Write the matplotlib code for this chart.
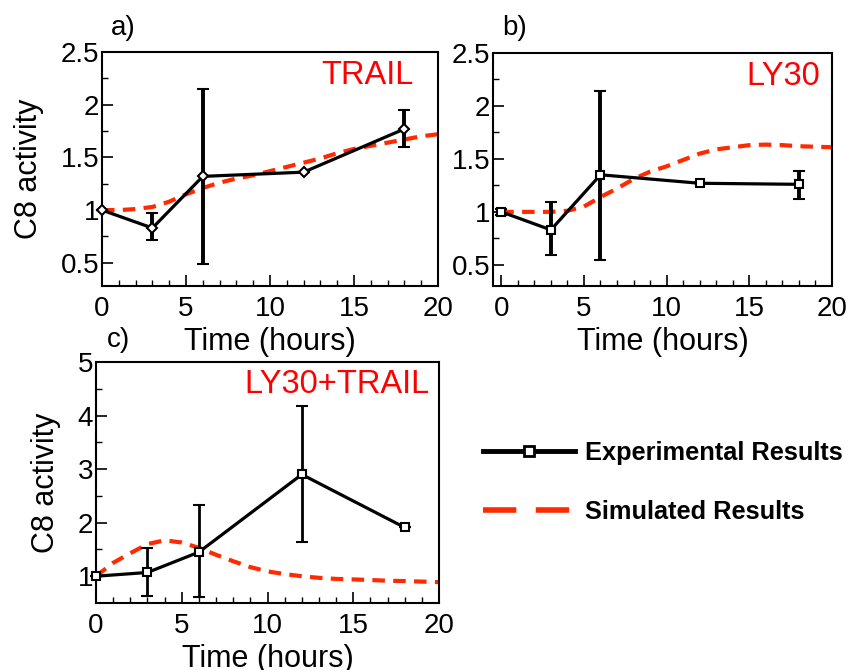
import numpy as np
import matplotlib.pyplot as plt
from matplotlib.lines import Line2D

plt.rcParams['font.family'] = ['Liberation Sans', 'DejaVu Sans']

# experimental points (time in hours)
t_exp = [0, 3, 6, 12, 18]

trail_exp = [1.0, 0.83, 1.32, 1.36, 1.77]
trail_lo = [1.0, 0.72, 0.49, 1.36, 1.60]
trail_hi = [1.0, 0.97, 2.15, 1.36, 1.95]

ly30_exp = [1.0, 0.83, 1.35, 1.27, 1.26]
ly30_lo = [0.97, 0.59, 0.55, 1.27, 1.12]
ly30_hi = [1.03, 1.09, 2.14, 1.27, 1.39]

combo_exp = [1.0, 1.07, 1.45, 2.90, 1.91]
combo_lo = [1.0, 0.63, 0.61, 1.63, 1.91]
combo_hi = [1.0, 1.53, 2.33, 4.17, 1.91]

# simulated curves
t_sim = [0, 1, 2, 3, 4, 5, 6, 7, 8, 9, 10, 11, 12, 13, 14, 15, 16, 17, 18, 19, 20]
trail_sim = [1.0, 1.0, 1.01, 1.03, 1.08, 1.15, 1.21, 1.26, 1.30, 1.33, 1.37, 1.41,
             1.45, 1.49, 1.54, 1.58, 1.61, 1.64, 1.67, 1.70, 1.72]
ly30_sim = [1.0, 1.0, 1.0, 1.0, 1.01, 1.05, 1.14, 1.22, 1.31, 1.38, 1.43, 1.49,
            1.55, 1.59, 1.61, 1.63, 1.635, 1.63, 1.62, 1.615, 1.61]
combo_sim = [1.0, 1.25, 1.43, 1.60, 1.67, 1.63, 1.53, 1.40, 1.28, 1.17, 1.09, 1.04,
             1.0, 0.97, 0.95, 0.94, 0.93, 0.915, 0.91, 0.90, 0.89]

RED = '#ff2a00'
W, H = 848, 670


def px_axes(fig, left, top, right, bottom):
    return fig.add_axes([left / W, 1 - bottom / H, (right - left) / W, (bottom - top) / H])


def style(ax, xlim, ylim, ymajor, yminor):
    ax.set_xlim(*xlim)
    ax.set_ylim(*ylim)
    ax.set_xticks([0, 5, 10, 15, 20])
    ax.set_xticks(np.arange(0, 21, 1), minor=True)
    ax.set_yticks(ymajor)
    ax.set_yticks(yminor, minor=True)
    ax.tick_params(which='both', direction='in', top=False, right=False, labelsize=20)
    ax.tick_params(axis='x', which='major', length=8, width=1.2, pad=7)
    ax.tick_params(axis='y', which='major', length=8, width=1.2, pad=2)
    ax.tick_params(which='minor', length=4, width=1)
    for s in ax.spines.values():
        s.set_linewidth(1.5)


def panel(ax, exp, lo, hi, sim, marker, ms, ebw, title, tx, ty):
    yerr = [np.array(exp) - np.array(lo), np.array(hi) - np.array(exp)]
    ax.plot(t_sim, sim, color=RED, lw=3, dashes=(3, 2), zorder=2)
    ax.errorbar(t_exp, exp, yerr=yerr, color='black', lw=2.3, elinewidth=ebw,
                capsize=4, capthick=ebw, marker=marker, ms=ms, mfc='white',
                mec='black', mew=1.5, zorder=3, clip_on=False)
    ax.text(tx, ty, title, transform=ax.transAxes, ha='right', va='top',
            color='red', fontsize=23.5)


fig = plt.figure(figsize=(W / 100, H / 100), dpi=100)

ax_a = px_axes(fig, 102, 52, 438, 286)
style(ax_a, (0, 20), (0.28, 2.5), [0.5, 1, 1.5, 2, 2.5], np.arange(0.5, 2.51, 0.25))
panel(ax_a, trail_exp, trail_lo, trail_hi, trail_sim, 'D', 5, 2.8, 'TRAIL', 0.926, 0.966)
ax_a.set_ylabel('C8 activity', fontsize=22, labelpad=12)
ax_a.set_xlabel('Time (hours)', fontsize=22, labelpad=4)
ax_a.set_yticklabels(['0.5', '1', '1.5', '2', '2.5'])

ax_b = px_axes(fig, 493, 53, 832, 286)
style(ax_b, (-0.5, 20), (0.3, 2.5), [0.5, 1, 1.5, 2, 2.5], np.arange(0.5, 2.51, 0.25))
panel(ax_b, ly30_exp, ly30_lo, ly30_hi, ly30_sim, 's', 6, 2.8, 'LY30', 0.965, 0.966)
ax_b.set_xlabel('Time (hours)', fontsize=22, labelpad=4)
ax_b.set_yticklabels(['0.5', '1', '1.5', '2', '2.5'])

ax_c = px_axes(fig, 96, 362, 439, 603)
style(ax_c, (0, 20), (0.5, 5), [1, 2, 3, 4, 5], np.arange(1, 5.01, 0.5))
panel(ax_c, combo_exp, combo_lo, combo_hi, combo_sim, 's', 6, 2.0, 'LY30+TRAIL', 0.974, 0.969)
ax_c.set_ylabel('C8 activity', fontsize=22, labelpad=12)
ax_c.set_xlabel('Time (hours)', fontsize=22, labelpad=4)

fig.text(123 / W, 1 - 28 / H, 'a)', fontsize=20, ha='center', va='center')
fig.text(515 / W, 1 - 28 / H, 'b)', fontsize=20, ha='center', va='center')
fig.text(118 / W, 1 - 340 / H, 'c)', fontsize=20, ha='center', va='center')

h_exp = Line2D([], [], color='black', lw=3.5, marker='s', ms=7, mfc='white',
               mec='black', mew=2)
h_sim = Line2D([], [], color=RED, lw=4, dashes=(6, 3.5))
fig.legend([h_exp, h_sim], ['Experimental Results', 'Simulated Results'],
           loc='upper left', bbox_to_anchor=(483 / W, 1 - 441 / H), frameon=False,
           handlelength=3.6, handletextpad=0.4, labelspacing=1.38, borderpad=0,
           borderaxespad=0, prop={'weight': 'bold', 'size': 18.3})

fig.savefig('out.png', dpi=100)
